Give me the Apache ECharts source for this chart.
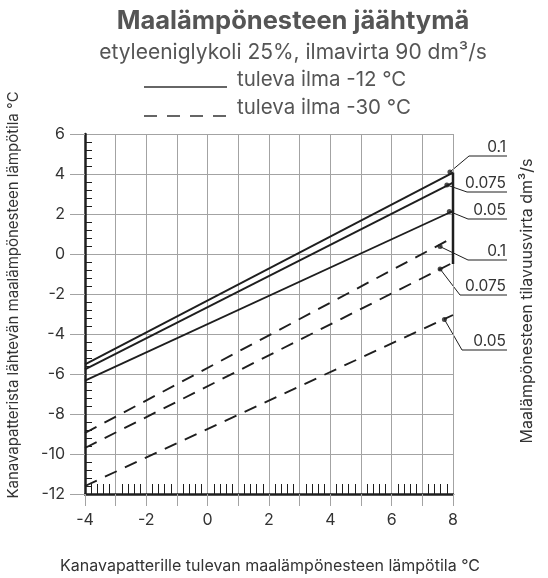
<!DOCTYPE html>
<html><head><meta charset="utf-8">
<script src="https://cdn.jsdelivr.net/npm/echarts@6/dist/echarts.min.js"></script>
<style>html,body{margin:0;padding:0;background:#fff}#c{width:548px;height:578px}</style>
</head><body><div id="c"></div>
<script>
// ---- data ----
const xTickLabels = [-4, -2, 0, 2, 4, 6, 8];
const yTickLabels = [-12, -10, -8, -6, -4, -2, 0, 2, 4, 6];
const flowLabels = ['0.1', '0.075', '0.05'];
const xEnds = [-4, 8];
// tuleva ilma -12 °C (solid), y at x=-4 and x=8
const solid_01 = [-5.52, 4.07];
const solid_0075 = [-5.77, 3.57];
const solid_005 = [-6.33, 2.15];
// tuleva ilma -30 °C (dashed)
const dashed_01 = [-8.95, 0.82];
const dashed_0075 = [-9.7, -0.43];
const dashed_005 = [-11.6, -3.05];
// marker dots on the lines
const solidDots = [[7.9, 4.1], [7.8, 3.45], [7.88, 2.13]];
const dashedDots = [[7.58, 0.37], [7.58, -0.75], [7.72, -3.27]];
// thick segment on the right edge (x=8)
const edgeX = 8;
const edgeY = [4.07, -0.5];

const FONT = 'Inter';
const INK = '#1e1e1e';
const GRID = '#a3a3a3';
const TXT = '#333';

const pairs = (ys) => xEnds.map((x, i) => [x, ys[i]]);
const solidSets = [solid_01, solid_0075, solid_005];
const dashedSets = [dashed_01, dashed_0075, dashed_005];

const series = [];
solidSets.forEach((s, i) => series.push({
  type: 'line', name: 'solid ' + flowLabels[i], data: pairs(s), symbol: 'none',
  lineStyle: { color: INK, width: 1.9, type: 'solid' }, z: 5
}));
dashedSets.forEach((s, i) => series.push({
  type: 'line', name: 'dashed ' + flowLabels[i], data: pairs(s), symbol: 'none',
  lineStyle: { color: INK, width: 1.9, type: [13, 9] }, z: 5
}));
series.push({
  type: 'line', data: edgeY.map(y => [edgeX, y]), symbol: 'none', clip: false,
  lineStyle: { color: INK, width: 2.5 }, z: 6
});
series.push({
  type: 'scatter', data: solidDots.concat(dashedDots), symbol: 'circle', symbolSize: 5,
  itemStyle: { color: INK }, z: 7, clip: false
});

const chart = echarts.init(document.getElementById('c'), null, { renderer: 'canvas' });

function txt(x, y, text, size, opts) {
  const o = opts || {};
  return {
    type: 'text', x: x, y: y, rotation: o.rot || 0,
    style: {
      text: text, fontFamily: FONT, fontSize: size, fontWeight: o.bold ? 'bold' : 'normal',
      fill: o.fill || TXT, align: o.align || 'center', verticalAlign: o.va || 'middle',
      textAlign: o.align || 'center', textVerticalAlign: o.va || 'middle'
    }
  };
}

const baseGraphics = [
  txt(293, 21, 'Maalämpönesteen jäähtymä', 25.5, { bold: true, fill: '#555' }),
  txt(293, 53, 'etyleeniglykoli 25%, ilmavirta 90 dm³/s', 21, { fill: '#555' }),
  { type: 'line', shape: { x1: 144, y1: 87, x2: 227, y2: 87 }, style: { stroke: '#333', lineWidth: 1.5 } },
  txt(237, 80, 'tuleva ilma -12 °C', 20.5, { fill: '#555', align: 'left' }),
  { type: 'line', shape: { x1: 144, y1: 116, x2: 227, y2: 116 }, style: { stroke: '#333', lineWidth: 1.5, lineDash: [13, 10] } },
  txt(237, 108, 'tuleva ilma -30 °C', 20.5, { fill: '#555', align: 'left' }),
  txt(13, 295, 'Kanavapatterista lähtevän maalämpönesteen lämpötila °C', 15, { rot: Math.PI / 2 }),
  txt(527, 301, 'Maalämpönesteen tilavuusvirta dm³/s', 16, { rot: Math.PI / 2 }),
  txt(270, 566, 'Kanavapatterille tulevan maalämpönesteen lämpötila °C', 16)
];

const option = {
  animation: false,
  backgroundColor: '#fff',
  textStyle: { fontFamily: FONT },
  grid: { left: 85, right: 95, top: 134, bottom: 84, containLabel: false },
  xAxis: [
    {
      type: 'value', position: 'bottom', min: -4, max: 8, interval: 1,
      axisLine: { show: true, onZero: false, lineStyle: { color: INK, width: 2.5 } },
      axisTick: { show: true, length: 12, lineStyle: { color: GRID, width: 1 } },
      axisLabel: { fontSize: 16, color: TXT, margin: 18, formatter: v => xTickLabels.includes(v) ? String(v) : '' },
      splitLine: { show: true, lineStyle: { color: GRID, width: 1 } }
    },
    {
      type: 'value', position: 'bottom', min: -4, max: 8, interval: 1,
      axisLine: { show: false, onZero: false }, axisTick: { show: false, inside: true }, axisLabel: { show: false },
      splitLine: { show: false },
      minorTick: { show: true, splitNumber: 5, length: 10, lineStyle: { color: INK, width: 1 } }
    }
  ],
  yAxis: [
    {
      type: 'value', position: 'left', min: -12, max: 6, interval: 2,
      axisLine: { show: true, onZero: false, lineStyle: { color: INK, width: 2.5 } },
      axisTick: { show: true, length: 15, lineStyle: { color: GRID, width: 1 } },
      axisLabel: { fontSize: 16, color: TXT, margin: 20, formatter: v => yTickLabels.includes(v) ? String(v) : '' },
      splitLine: { show: true, lineStyle: { color: GRID, width: 1 } }
    },
    {
      type: 'value', position: 'left', min: -12, max: 6, interval: 2,
      axisLine: { show: false, onZero: false }, axisTick: { show: false, inside: true }, axisLabel: { show: false },
      splitLine: { show: false },
      minorTick: { show: true, splitNumber: 5, length: 7, lineStyle: { color: INK, width: 1 } }
    }
  ],
  series: series,
  graphic: baseGraphics
};
chart.setOption(option);

// annotation labels with leader lines (layout positions in px)
const labelUnder = [
  { y: 156, x0: 469 }, { y: 192, x0: 467 }, { y: 219, x0: 468 },
  { y: 260, x0: 468 }, { y: 295, x0: 460 }, { y: 350, x0: 462 }
];
const allDots = solidDots.concat(dashedDots);
const ann = [];
allDots.forEach((d, i) => {
  const p = chart.convertToPixel({ gridIndex: 0 }, d);
  const u = labelUnder[i];
  ann.push({ type: 'line', shape: { x1: p[0], y1: p[1], x2: u.x0, y2: u.y }, style: { stroke: INK, lineWidth: 1 } });
  ann.push({ type: 'line', shape: { x1: u.x0, y1: u.y, x2: 507, y2: u.y }, style: { stroke: INK, lineWidth: 1 } });
  ann.push(txt(506, u.y - 1, flowLabels[i % 3], 15.5, { align: 'right', va: 'bottom' }));
});
chart.setOption({ graphic: baseGraphics.concat(ann) });
</script>
</body></html>
